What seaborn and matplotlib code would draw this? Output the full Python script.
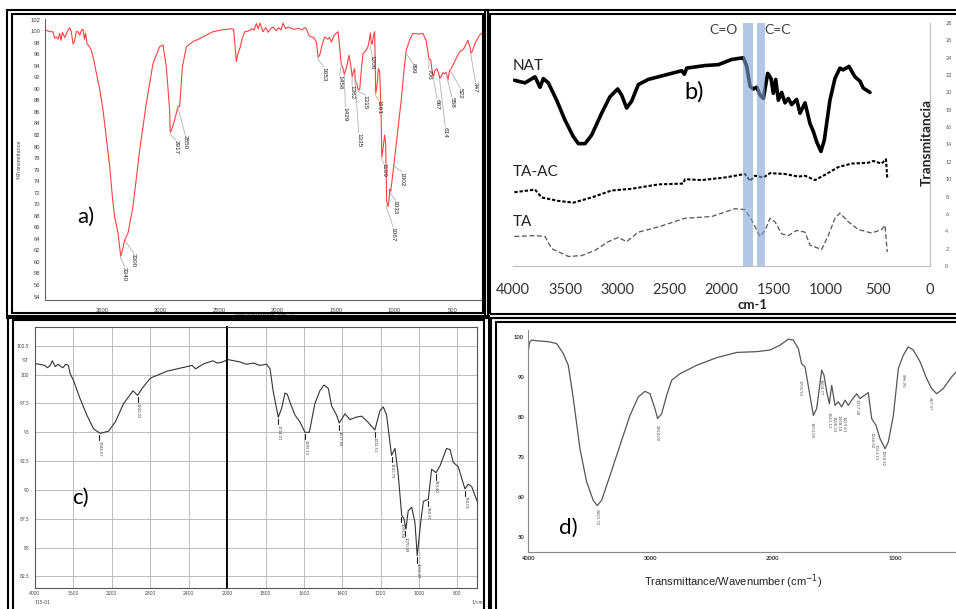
###
#   IMPORT
###
import matplotlib
matplotlib.use('Agg')
import matplotlib.pyplot as plt
from matplotlib.patches import Rectangle
from matplotlib.ticker import MultipleLocator
import seaborn as sns

###
#   STYLE
###
sns.set_theme(style='white')
plt.rcParams['font.family'] = ['Lato', 'DejaVu Sans']

W, H = 956, 609

###
#   DATA  a) (red spectrum)
###
a_wn = [3990, 3960, 3940, 3919, 3905, 3890, 3875, 3862, 3850, 3838, 3819, 3805, 3790, 3776,
        3762, 3748, 3735, 3720, 3705, 3690, 3675, 3662, 3650, 3640, 3628, 3610, 3591, 3570,
        3548, 3520, 3491, 3460, 3434, 3410, 3392, 3363, 3340, 3320, 3306, 3278, 3235, 3178,
        3121, 3064, 3007, 2979, 2950, 2922, 2917, 2907, 2879, 2850, 2836, 2813, 2779, 2720,
        2665, 2600, 2551, 2480, 2400, 2375, 2362, 2352, 2340, 2322, 2300, 2280, 2250, 2220,
        2200, 2180, 2165, 2150, 2124, 2100, 2080, 2060, 2038, 2010, 1990, 1970, 1953, 1930,
        1910, 1896, 1860, 1820, 1790, 1770, 1754, 1730, 1711, 1690, 1668, 1653, 1640, 1620,
        1597, 1570, 1555, 1540, 1515, 1483, 1470, 1456, 1440, 1429, 1410, 1389, 1375, 1362,
        1350, 1341, 1335, 1321, 1315, 1298, 1285, 1269, 1240, 1227, 1215, 1207, 1198, 1190,
        1180, 1170, 1161, 1150, 1138, 1127, 1115, 1109, 1099, 1085, 1076, 1067, 1055, 1048,
        1040, 1033, 1022, 1002, 985, 965, 943, 920, 900, 870, 843, 800, 758, 730, 706, 690,
        678, 667, 655, 638, 620, 614, 601, 585, 570, 558, 544, 530, 516, 480, 444, 410, 373,
        355, 347, 336, 310, 273, 250]
a_t = [100.3, 100.0, 99.9, 99.9, 98.8, 99.0, 98.6, 99.6, 98.4, 99.8, 98.9, 99.5, 100.2, 100.6,
       99.9, 97.8, 98.2, 99.9, 99.9, 99.3, 100.2, 100.3, 98.6, 99.6, 97.8, 97.4, 96.7, 95.0,
       92.7, 90.0, 86.3, 81.0, 76.5, 71.0, 67.8, 65.0, 61.0, 62.5, 63.8, 65.0, 69.6, 79.4,
       87.5, 94.4, 97.3, 97.6, 93.8, 86.3, 82.5, 82.8, 84.6, 87.0, 86.9, 93.8, 97.3, 98.2,
       98.7, 99.4, 99.9, 100.2, 100.4, 100.3, 97.2, 94.7, 96.0, 97.0, 98.8, 99.9, 100.0, 100.4,
       100.2, 101.3, 100.4, 101.4, 99.9, 100.6, 99.8, 100.4, 100.7, 100.1, 100.6, 100.2, 101.4, 100.4,
       100.7, 100.6, 100.3, 100.5, 100.2, 100.6, 100.4, 99.2, 99.0, 98.9, 98.1, 95.5, 95.8, 97.5,
       99.0, 98.6, 98.9, 98.1, 99.3, 99.9, 97.5, 94.4, 93.5, 92.5, 93.8, 95.8, 94.2, 92.1,
       93.0, 93.5, 91.2, 90.9, 90.0, 89.8, 93.0, 96.1, 96.8, 97.3, 98.5, 99.7, 97.8, 97.8,
       99.2, 99.9, 89.2, 90.5, 93.5, 93.0, 86.0, 78.2, 79.5, 82.0, 80.5, 70.5, 69.6, 70.5,
       72.6, 72.2, 74.0, 77.6, 80.5, 84.0, 88.0, 93.0, 96.7, 98.5, 99.6, 99.5, 99.6, 98.4, 95.2, 95.0,
       92.8, 92.1, 93.2, 93.5, 92.5, 91.8, 92.2, 92.8, 92.6, 92.9, 91.5, 93.2, 93.5, 95.0, 96.4, 96.9, 98.4,
       97.2, 96.2, 96.5, 98.0, 99.3, 99.7]

a_labels = ['3340', '3300', '2917', '2850', '1653', '1456', '1429', '1362', '1335', '1315',
            '1206', '1161', '1109', '1002', '1033', '1067', '899', '706', '667', '614',
            '558', '522', '347']
a_label_x = [3306, 3229, 2870, 2788, 1605, 1469, 1420, 1363, 1306, 1249,
             1192, 1135, 1093, 936, 993, 1013, 842, 708, 637, 566,
             511, 437, 309]
a_label_y = [59.2, 61.5, 81.1, 82.0, 93.8, 92.4, 86.9, 90.6, 82.3, 88.9,
             95.8, 88.0, 77.1, 75.6, 70.7, 66.1, 94.4, 93.5, 88.3, 83.4,
             88.6, 90.1, 91.2]
a_peak_x = [3340, 3300, 2917, 2850, 1653, 1456, 1429, 1362, 1335, 1315,
            1206, 1161, 1109, 1002, 1033, 1067, 899, 706, 667, 614,
            558, 522, 347]
a_peak_y = [61.0, 64.0, 82.5, 87.0, 95.5, 94.4, 92.5, 92.1, 91.2, 90.0,
            97.6, 89.2, 78.2, 77.0, 72.2, 69.8, 96.5, 95.0, 92.1, 91.8,
            92.9, 93.5, 96.2]

###
#   DATA  b) (three stacked spectra)
###
nat_wn = [3987, 3885, 3789, 3741, 3709, 3661, 3581, 3501, 3421, 3373, 3309, 3245, 3150, 3070,
          2996, 2958, 2910, 2862, 2798, 2702, 2542, 2382, 2356, 2334, 2158, 2030, 1902, 1790,
          1758, 1726, 1694, 1662, 1630, 1598, 1557, 1525, 1503, 1480, 1455, 1423, 1391, 1359,
          1327, 1279, 1247, 1199, 1151, 1119, 1087, 1046, 1014, 960, 912, 864, 832, 777,
          720, 672, 640, 576]
nat_t = [21.4, 21.1, 21.8, 20.6, 21.6, 21.1, 19.1, 16.8, 14.9, 14.1, 14.1, 15.1, 17.6, 19.5,
         20.4, 19.7, 18.2, 19.0, 20.9, 21.5, 22.0, 22.5, 22.1, 22.8, 23.1, 23.2, 23.8, 24.0,
         23.0, 20.7, 20.4, 20.6, 19.7, 19.3, 22.2, 21.6, 19.9, 21.5, 19.1, 20.0, 18.8, 19.3,
         18.6, 19.2, 17.6, 18.8, 16.4, 15.5, 14.3, 13.2, 14.5, 19.1, 21.6, 22.8, 22.6, 23.0,
         21.8, 21.3, 20.5, 20.0]

taac_wn = [3987, 3789, 3725, 3565, 3421, 3245, 3054, 2862, 2606, 2366, 2350, 2190, 1967, 1775,
           1726, 1679, 1598, 1535, 1391, 1263, 1199, 1103, 1008, 880, 752, 592, 544, 464,
           422, 410]
taac_t = [8.5, 8.8, 7.9, 7.5, 7.3, 7.9, 8.7, 8.9, 9.4, 9.5, 10.0, 9.9, 10.2, 10.6,
          9.8, 10.4, 10.2, 10.7, 10.6, 10.3, 10.4, 9.9, 10.5, 11.4, 11.8, 11.9, 12.1, 11.8,
          12.3, 10.1]

ta_wn = [3987, 3789, 3693, 3629, 3469, 3341, 3214, 3086, 2990, 2910, 2798, 2606, 2350, 2094,
         1871, 1775, 1711, 1630, 1582, 1535, 1487, 1423, 1359, 1279, 1199, 1151, 1040, 976,
         912, 864, 784, 688, 560, 464, 432, 410]
ta_t = [3.4, 3.5, 3.4, 2.0, 1.1, 1.2, 1.8, 2.8, 3.3, 2.8, 3.9, 4.5, 5.5, 5.7,
        6.6, 6.5, 5.3, 3.4, 4.1, 5.5, 5.1, 3.7, 3.5, 4.1, 3.9, 2.4, 1.9, 3.5,
        5.5, 6.1, 5.1, 4.2, 3.8, 4.2, 4.7, 1.6]

b_bands = [(1790, 1700, 'C=O'), (1660, 1585, 'C=C')]

###
#   DATA  c) (grid spectrum, scale change at 2000)
###
c_wn = [4000, 3950, 3900, 3870, 3843, 3820, 3790, 3760, 3739, 3710, 3680, 3652, 3635, 3600,
        3530, 3461, 3391, 3322, 3235, 3165, 3078, 2981, 2932, 2887, 2800, 2626, 2417, 2365,
        2330, 2243, 2149, 2104, 2050, 1995, 1934, 1900, 1864, 1830, 1795, 1777, 1760, 1734,
        1716, 1699, 1687, 1673, 1647, 1621, 1595, 1572, 1543, 1517, 1496, 1473, 1456, 1430,
        1416, 1386, 1360, 1330, 1299, 1273, 1230, 1203, 1186, 1169, 1143, 1125, 1108, 1090,
        1078, 1068, 1056, 1038, 1021, 1009, 991, 977, 951, 934, 911, 890, 856, 838, 821,
        795, 760, 743, 725, 696]
c_t = [100.95, 100.9, 100.8, 100.6, 100.8, 101.2, 100.7, 100.9, 100.75, 100.6, 100.9, 100.8, 100.1, 99.5,
       97.9, 96.5, 95.3, 94.9, 95.1, 95.9, 97.5, 98.6, 98.2, 98.8, 99.7, 100.3, 100.7, 100.8,
       100.5, 100.95, 101.2, 101.0, 101.1, 101.3, 101.1, 100.9, 101.0, 100.8, 100.9, 100.5, 98.5, 96.3,
       97.1, 98.4, 98.3, 97.6, 96.5, 95.9, 95.0, 95.0, 97.5, 98.6, 99.1, 98.8, 97.3, 96.5,
       95.8, 96.6, 96.1, 96.3, 96.4, 96.0, 95.2, 96.9, 97.2, 96.5, 93.0, 93.6, 91.3, 87.8,
       87.5, 86.6, 88.2, 88.5, 87.2, 84.3, 87.2, 89.0, 89.2, 91.8, 91.5, 92.1, 93.6, 93.5, 92.4,
       92.0, 90.1, 90.5, 90.3, 89.0]

c_labels = ['3344.57', '2920.23', '1734.01', '1595.13', '1417.68', '1232.51', '1143.79',
            '1093.64', '1070.49', '1016.49', '950.91', '910.40', '760.05']
c_peak_x = [3330, 2930, 1734, 1592, 1416, 1230, 1143, 1092, 1071, 1009, 955, 911, 758]
c_peak_y = [94.9, 98.2, 96.3, 95.0, 95.8, 95.2, 93.0, 87.8, 86.6, 84.3, 89.2, 91.5, 90.1]

###
#   DATA  d) (grey spectrum)
###
d_wn = [4000, 3990, 3973, 3930, 3877, 3820, 3768, 3714, 3673, 3632, 3578, 3523, 3469, 3436,
        3401, 3332, 3251, 3169, 3101, 3046, 3005, 2965, 2943, 2910, 2869, 2828, 2760, 2624,
        2460, 2297, 2134, 2025, 1943, 1875, 1834, 1793, 1766, 1738, 1698, 1670, 1643, 1621,
        1602, 1583, 1561, 1539, 1520, 1493, 1466, 1439, 1411, 1384, 1357, 1316, 1289, 1221,
        1193, 1158, 1125, 1084, 1057, 1016, 975, 935, 894, 853, 798, 744, 703, 662,
        608, 540, 504]
d_t = [96.5, 98.6, 99.2, 99.0, 98.9, 98.7, 98.3, 95.8, 92.9, 84.6, 72.1, 63.8, 59.2, 57.9,
       59.2, 65.4, 72.9, 80.4, 85.0, 86.4, 85.8, 82.1, 79.6, 80.8, 85.4, 89.2, 90.8, 92.9,
       94.8, 96.1, 96.3, 96.7, 97.9, 99.4, 99.2, 97.1, 93.3, 92.5, 85.4, 80.4, 82.1, 87.1,
       91.7, 90.4, 86.3, 83.3, 87.9, 82.9, 83.8, 82.5, 84.2, 82.9, 84.2, 85.8, 84.6, 86.1,
       79.6, 77.9, 74.6, 72.1, 73.8, 80.4, 92.1, 95.4, 97.5, 96.7, 93.8, 89.6, 87.1, 85.8,
       87.1, 90.0, 91.2]

d_labels = ['3421.72', '2924.09', '1735.93', '1653.00', '1604.77', '1541.12', '1508.33',
            '1458.18', '1419.61', '1317.38', '1246.02', '1161.15', '1058.92', '896.90', '667.37']
d_label_x = [3436, 2950, 1779, 1684, 1608, 1548, 1507, 1466, 1425, 1316, 1193, 1158, 1104, 935, 717]
d_label_y = [57.1, 77.9, 89.2, 78.8, 89.6, 81.3, 80.2, 80.6, 80.2, 84.6, 76.3, 73.3, 71.7, 90.8, 85.0]

###
#   FIGURE
###
fig = plt.figure(figsize=(W / 100, H / 100), dpi=100)
fig.patch.set_facecolor('white')


def px_rect(x0, y0, x1, y1):
    return [x0 / W, 1 - y1 / H, (x1 - x0) / W, (y1 - y0) / H]


###
#   a)
###
ax_a = fig.add_axes(px_rect(45, 19, 483, 300))
sns.lineplot(x=a_wn, y=a_t, ax=ax_a, color='#ff4040', lw=0.8, estimator=None, sort=False)
for lab, lx, ly, px, py in zip(a_labels, a_label_x, a_label_y, a_peak_x, a_peak_y):
    ax_a.plot([px, px, lx], [py, py - 0.4, ly], color='#b0b0b0', lw=0.6)
    ax_a.text(lx, ly, lab, rotation=270, ha='center', va='top', fontsize=4.6,
              family='Liberation Sans', color='#222222')
ax_a.set_xlim(3987, 244)
ax_a.set_ylim(53.4, 102.1)
ax_a.set_yticks(range(54, 103, 2))
ax_a.set_xticks([3500, 3000, 2500, 2000, 1500, 1000, 500])
ax_a.tick_params(labelsize=4.2, colors='#444444', length=2, width=0.5, pad=1.5)
for lab in ax_a.get_xticklabels() + ax_a.get_yticklabels():
    lab.set_family('Liberation Sans')
ax_a.tick_params(axis='x', pad=4)
ax_a.set_ylabel('%Transmittance', fontsize=4, family='Liberation Sans', color='#444444', labelpad=6)
for s in ['top', 'right']:
    ax_a.spines[s].set_visible(False)
for s in ['left', 'bottom']:
    ax_a.spines[s].set_color('#666666')
    ax_a.spines[s].set_linewidth(0.8)
fig.text(265 / W, 1 - 315 / H, 'Wavenumbers (cm-1)', fontsize=4.5, ha='center', va='center',
         family='Liberation Sans', color='#555555')
fig.text(86 / W, 1 - 217 / H, 'a)', fontsize=16, ha='center', va='center', color='black')

###
#   b)
###
ax_b = fig.add_axes(px_rect(513, 23, 930, 266))
sns.lineplot(x=ta_wn, y=ta_t, ax=ax_b, color='#555555', lw=0.9, ls=(0, (4, 2)),
             estimator=None, sort=False)
sns.lineplot(x=taac_wn, y=taac_t, ax=ax_b, color='black', lw=1.5, ls=(0, (1.6, 0.9)),
             estimator=None, sort=False)
sns.lineplot(x=nat_wn, y=nat_t, ax=ax_b, color='black', lw=2.6, estimator=None, sort=False)
for hi, lo, lab in b_bands:
    ax_b.axvspan(lo, hi, color='#7fa3d4', alpha=0.6, lw=0, zorder=5)
ax_b.set_xlim(4000, 0)
ax_b.set_ylim(0, 28)
ax_b.set_xticks(range(4000, -1, -500))
ax_b.set_yticks(range(0, 29, 2))
ax_b.yaxis.tick_right()
ax_b.tick_params(axis='y', labelsize=4, colors='#555555', length=0, pad=11)
ax_b.tick_params(axis='x', labelsize=10.5, colors='#333333', length=0, pad=12)
for s in ['top', 'left']:
    ax_b.spines[s].set_visible(False)
for s in ['bottom', 'right']:
    ax_b.spines[s].set_color('#bfbfbf')
    ax_b.spines[s].set_linewidth(0.8)
fig.text(752 / W, 1 - 305 / H, 'cm-1', fontsize=9.5, fontweight='bold', ha='center',
         va='center', color='#222222')
fig.text(927 / W, 1 - 143 / H, 'Transmitancia', fontsize=10, fontweight='bold',
         rotation=90, ha='center', va='center', color='#222222')
fig.text(724 / W, 1 - 30 / H, 'C=O', fontsize=10, ha='center', va='center', color='#404040')
fig.text(778 / W, 1 - 30 / H, 'C=C', fontsize=10, ha='center', va='center', color='#404040')
fig.text(513 / W, 1 - 66 / H, 'NAT', fontsize=11, ha='left', va='center', color='#222222')
fig.text(513 / W, 1 - 172 / H, 'TA-AC', fontsize=11, ha='left', va='center', color='#222222')
fig.text(513 / W, 1 - 222 / H, 'TA', fontsize=11, ha='left', va='center', color='#222222')
fig.text(694 / W, 1 - 92 / H, 'b)', fontsize=17, ha='center', va='center', color='black')

###
#   c)
###
ax_c1 = fig.add_axes(px_rect(35, 327, 227.3, 588))
ax_c2 = fig.add_axes(px_rect(227.3, 327, 477.3, 588))
c_left = [(w, t) for w, t in zip(c_wn, c_t) if w >= 1995]
c_right = [(w, t) for w, t in zip(c_wn, c_t) if w <= 2000]
sns.lineplot(x=[p[0] for p in c_left], y=[p[1] for p in c_left], ax=ax_c1, color='#333333',
             lw=0.8, estimator=None, sort=False)
sns.lineplot(x=[p[0] for p in c_right], y=[p[1] for p in c_right], ax=ax_c2, color='#333333',
             lw=0.8, estimator=None, sort=False)
ax_c1.set_xlim(4000, 2000)
ax_c2.set_xlim(2000, 695.6)
for ax in (ax_c1, ax_c2):
    ax.set_ylim(81.5, 104.13)
    ax.set_yticks([82.5, 85, 87.5, 90, 92.5, 95, 97.5, 100, 102.5])
    ax.grid(True, color='#bbbbbb', lw=0.7)
    ax.tick_params(axis='x', direction='in', labelsize=3.5, colors='#444444', length=3,
                   width=0.5, pad=2)
    ax.tick_params(axis='x', which='minor', direction='in', length=2, width=0.5)
    for s in ax.spines.values():
        s.set_color('#555555')
        s.set_linewidth(0.8)
ax_c1.set_xticks([4000, 3600, 3200, 2800, 2400])
ax_c1.xaxis.set_minor_locator(MultipleLocator(100))
ax_c2.set_xticks([2000, 1800, 1600, 1400, 1200, 1000, 800])
ax_c2.xaxis.set_minor_locator(MultipleLocator(50))
ax_c1.yaxis.set_minor_locator(MultipleLocator(0.5))
ax_c1.tick_params(axis='y', labelsize=3.5, colors='#444444', length=3, width=0.5, pad=1)
ax_c1.tick_params(axis='y', which='minor', length=2, width=0.5)
ax_c1.set_yticklabels(['82.5', '85', '87.5', '90', '92.5', '95', '97.5', '100', '102.5'])
ax_c2.tick_params(axis='y', left=False, labelleft=False)
ax_c1.spines['right'].set_color('black')
ax_c1.spines['right'].set_linewidth(1.3)
ax_c2.spines['left'].set_color('black')
ax_c2.spines['left'].set_linewidth(1.3)
ax_c1.text(-0.035, 101.25, '%T', transform=ax_c1.get_yaxis_transform(), fontsize=3.5,
           ha='right', va='center', color='#444444')
for lab, px, py in zip(c_labels, c_peak_x, c_peak_y):
    ax_t = ax_c1 if px > 2000 else ax_c2
    ax_t.plot([px, px], [py - 0.15, py - 0.6], color='#222222', lw=0.8)
    ax_t.text(px, py - 0.65, lab, rotation=270, ha='center', va='top', fontsize=3,
              color='#444444')
fig.text(43 / W, 1 - 603 / H, '115-01', fontsize=3.5, ha='center', va='center', color='#444444')
fig.text(477 / W, 1 - 602 / H, '1/cm', fontsize=3.5, ha='center', va='center', color='#444444')
fig.text(80 / W, 1 - 498 / H, 'c)', fontsize=16, ha='center', va='center', color='black')

###
#   d)
###
ax_d = fig.add_axes(px_rect(528.3, 330, 956, 551.7))
sns.lineplot(x=d_wn, y=d_t, ax=ax_d, color='#555555', lw=0.9, estimator=None, sort=False)
for lab, lx, ly in zip(d_labels, d_label_x, d_label_y):
    ax_d.text(lx, ly, lab, rotation=270, ha='center', va='top', fontsize=3.2, color='#555555')
ax_d.set_xlim(4000, 504)
ax_d.set_ylim(46.4, 101.7)
ax_d.set_xticks([4000, 3000, 2000, 1000])
ax_d.set_yticks([50, 60, 70, 80, 90, 100])
ax_d.tick_params(labelsize=4.2, colors='#333333', length=0, pad=3)
for lab in ax_d.get_xticklabels() + ax_d.get_yticklabels():
    lab.set_fontweight('bold')
for s in ['top', 'right']:
    ax_d.spines[s].set_visible(False)
for s in ['left', 'bottom']:
    ax_d.spines[s].set_color('#888888')
    ax_d.spines[s].set_linewidth(0.8)
fig.text(733 / W, 1 - 582 / H, 'Transmittance/Wavenumber (cm$^{-1}$)', fontsize=8,
         ha='center', va='center', color='#222222',
         family=['Liberation Sans Narrow', 'Liberation Sans', 'DejaVu Sans'])
fig.text(568 / W, 1 - 528 / H, 'd)', fontsize=16, ha='center', va='center', color='black')

###
#   PANEL BORDERS (double lines)
###
borders = [
    (7, 10, 488, 318), (12, 14, 483, 313),
    (485, 10, 962, 318), (490, 14, 962, 314),
    (8, 316, 489, 615), (13, 320, 484, 615),
    (491, 318, 962, 615), (496, 322, 962, 615),
]
for x0, y0, x1, y1 in borders:
    r = px_rect(x0, y0, x1, y1)
    fig.add_artist(Rectangle((r[0], r[1]), r[2], r[3], transform=fig.transFigure,
                             fill=False, ec='black', lw=1.5, zorder=20, clip_on=False))

plt.savefig('out.png', dpi=100, facecolor='white')
